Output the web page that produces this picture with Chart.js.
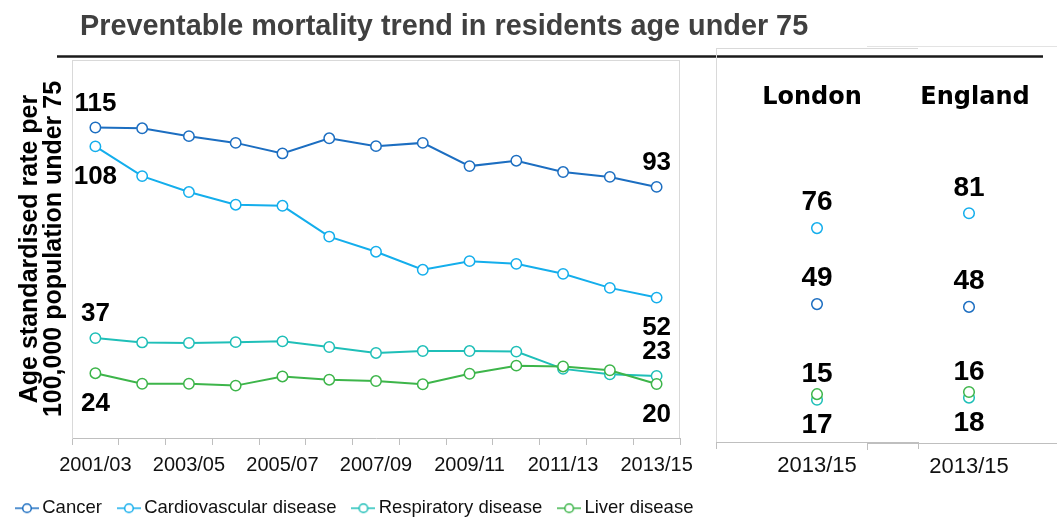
<!DOCTYPE html>
<html><head><meta charset="utf-8">
<script src="https://cdn.jsdelivr.net/npm/chart.js@4.4.0/dist/chart.umd.min.js"></script>
<style>
html,body{margin:0;padding:0;background:#fff;overflow:hidden}
#wrap{position:relative;width:1057px;height:517px;overflow:hidden;background:#fff}
canvas{position:absolute;top:0}
</style></head><body>
<div id="wrap">
<canvas id="main" width="1057" height="517" style="left:0;width:1057px;height:517px"></canvas>
<canvas id="london" width="230" height="517" style="left:700px;width:230px;height:517px"></canvas>
<canvas id="england" width="240" height="517" style="left:850px;width:240px;height:517px"></canvas>
</div>
<script>
// ---------- data ----------
const categories = ['2001/03','2002/04','2003/05','2004/06','2005/07','2006/08','2007/09','2008/10','2009/11','2010/12','2011/13','2012/14','2013/15'];
const tickLabels = ['2001/03','2003/05','2005/07','2007/09','2009/11','2011/13','2013/15'];
const seriesNames = ['Cancer','Cardiovascular disease','Respiratory disease','Liver disease'];
const cancer         = [115,114.7,111.8,109.3,105.4,111.0,108.1,109.3,100.7,102.7,98.5,96.7,93];
const cardiovascular = [108,97.0,91.1,86.4,86.0,74.6,69.0,62.3,65.5,64.5,60.8,55.6,52];
const respiratory    = [37,35.4,35.2,35.5,35.8,33.7,31.5,32.2,32.2,32.0,25.6,23.6,23];
const liver          = [24,20.1,20.1,19.4,22.8,21.6,21.1,19.9,23.8,26.8,26.5,25.1,20];
const compareCategory = ['2013/15'];
const compareNames = ['London','England'];
// order: Cancer, Cardiovascular, Respiratory, Liver
const londonValues  = [49,76,15,17];
const englandValues = [48,81,16,18];
const titleText = 'Preventable mortality trend in residents age under 75';
const yTitle = ['Age standardised rate per','100,000 population under 75'];

// ---------- styles ----------
Chart.defaults.font.family = "'Liberation Sans', Arial, sans-serif";
Chart.defaults.color = '#111';
const COLORS = ['#1C6EC1','#14AEEC','#1FBFB8','#3DB54A'];
const SIDES = ['above','below','above','below'];
const RIGHT_SIDES = ['above','above','above','below'];
const ORDERS = [4,3,2,1];

function markerImage(color){
  const c = document.createElement('canvas'); c.width = 24; c.height = 12;
  const g = c.getContext('2d');
  g.strokeStyle = color; g.lineWidth = 1.5;
  g.beginPath(); g.moveTo(0,6); g.lineTo(24,6); g.stroke();
  g.beginPath(); g.arc(12,6,4.3,0,Math.PI*2); g.fillStyle = '#fff'; g.fill(); g.stroke();
  return c;
}

const frame = {
  id:'frame',
  beforeDatasetsDraw(chart, args, o){
    const {left, top, right, bottom} = chart.chartArea;
    const ctx = chart.ctx; ctx.save();
    ctx.strokeStyle = o.color || '#D9D9D9'; ctx.lineWidth = 1;
    ctx.beginPath();
    if (o.top){ ctx.moveTo(left, Math.round(top)+0.5); ctx.lineTo(right, Math.round(top)+0.5); }
    if (o.right){ ctx.moveTo(Math.round(right)-0.5, top); ctx.lineTo(Math.round(right)-0.5, bottom); }
    if (o.left){ ctx.moveTo(Math.round(left)+0.5, top); ctx.lineTo(Math.round(left)+0.5, bottom); }
    ctx.stroke(); ctx.restore();
  }
};

const valueLabels = {
  id:'valueLabels',
  afterDatasetsDraw(chart, args, o){
    const ctx = chart.ctx; ctx.save();
    ctx.font = o.font; ctx.fillStyle = '#000';
    ctx.textAlign = 'center'; ctx.textBaseline = 'middle';
    chart.data.datasets.forEach((ds, di) => {
      const meta = chart.getDatasetMeta(di);
      const n = ds.data.length;
      const idx = o.ends ? [0, n-1] : ds.data.map((_, i) => i);
      idx.forEach(i => {
        const el = meta.data[i];
        const dy = ds.labelSide === 'below' ? o.below : -o.above;
        ctx.fillText(String(Math.round(ds.data[i])), el.x, el.y + dy);
      });
    });
    ctx.restore();
  }
};

const decor = {
  id:'decor',
  afterDraw(chart, args, o){
    const ctx = chart.ctx; ctx.save();
    if (o.title){
      ctx.font = "bold 28.8px 'Liberation Sans', Arial, sans-serif";
      ctx.fillStyle = '#404040'; ctx.textAlign = 'left'; ctx.textBaseline = 'alphabetic';
      ctx.fillText(o.title, 80, 35);
      ctx.strokeStyle = '#1a1a1a'; ctx.lineWidth = 2.5;
      ctx.beginPath(); ctx.moveTo(57, 56.5); ctx.lineTo(1043, 56.5); ctx.stroke();
    }
    if (o.heading){
      const xs = chart.scales.x;
      ctx.font = "bold 24px 'DejaVu Sans', Verdana, sans-serif";
      ctx.fillStyle = '#000'; ctx.textAlign = 'center'; ctx.textBaseline = 'middle';
      ctx.fillText(o.heading, xs.getPixelForValue(0) + o.dx, o.y);
    }
    ctx.restore();
  }
};

function lineDataset(i, data){
  return {
    label: seriesNames[i], data, borderColor: COLORS[i], backgroundColor: COLORS[i],
    borderWidth: 2, tension: 0, pointRadius: 5.2, pointBorderWidth: 1.5,
    pointBackgroundColor: '#fff', pointBorderColor: COLORS[i],
    labelSide: SIDES[i], order: ORDERS[i]
  };
}

const mainChart = new Chart(document.getElementById('main'), {
  type: 'line',
  data: { labels: categories, datasets: [
    lineDataset(0, cancer), lineDataset(1, cardiovascular),
    lineDataset(2, respiratory), lineDataset(3, liver)
  ]},
  options: {
    responsive: false, animation: false, events: [],
    layout: { padding: { left: 0, right: 0, top: 60, bottom: 0 } },
    scales: {
      x: {
        type: 'category', offset: true,
        grid: { offset: true, drawOnChartArea: false, drawTicks: true, tickLength: 7, color: '#BFBFBF' },
        border: { display: true, color: '#BFBFBF' },
        ticks: {
          autoSkip: false, maxRotation: 0, minRotation: 0, padding: 8, color: '#111', font: { size: 20 },
          callback(v){ const l = this.getLabelForValue(v); return tickLabels.includes(l) ? l : ''; }
        },
        afterFit(s){ s.height = 40; }
      },
      y: {
        min: 0, max: 140,
        grid: { display: false }, border: { display: true, color: '#D9D9D9' },
        ticks: { display: false },
        title: { display: true, text: yTitle, color: '#000',
                 font: { size: 25, weight: 'bold', lineHeight: 0.96 }, padding: { top: 18, bottom: 0 } },
        afterFit(s){ s.width = 72; }
      },
      y2: {
        type: 'linear', position: 'right', display: true,
        grid: { display: false }, border: { display: false }, ticks: { display: false },
        afterFit(s){ s.width = 1057 - 680; }
      }
    },
    plugins: {
      tooltip: { enabled: false },
      legend: {
        position: 'bottom', align: 'start',
        labels: {
          usePointStyle: true, pointStyleWidth: 12, padding: 21, color: '#111',
          font: { size: 18.5 },
          generateLabels(chart){
            return chart.data.datasets.map((ds, i) => ({
              text: ds.label, fillStyle: '#fff', strokeStyle: ds.borderColor, lineWidth: 0,
              pointStyle: markerImage(ds.borderColor), hidden: false, datasetIndex: i, fontColor: '#111'
            }));
          }
        }
      },
      frame: { top: true, right: true, color: '#D9D9D9' },
      valueLabels: { ends: true, font: "bold 26px 'Liberation Sans', Arial, sans-serif", above: 24, below: 30.5 },
      decor: { title: titleText }
    }
  },
  plugins: [frame, valueLabels, decor]
});
(function(){
  const lg = mainChart.legend; const orig = lg.fit.bind(lg);
  lg.fit = function(){ orig(); this.height = 39; };
  mainChart.update();
})();

function compareChart(id, values, name, pad, axisBottom, dx, frameOpts){
  return new Chart(document.getElementById(id), {
    type: 'line',
    data: { labels: compareCategory, datasets: values.map((v, i) => ({
      label: seriesNames[i], data: [v], showLine: false,
      borderColor: COLORS[i], backgroundColor: '#fff',
      pointRadius: 5.3, pointBorderWidth: 1.5, pointBackgroundColor: '#fff', pointBorderColor: COLORS[i],
      labelSide: RIGHT_SIDES[i], order: ORDERS[i]
    }))},
    options: {
      responsive: false, animation: false, events: [],
      layout: { padding: pad },
      scales: {
        x: {
          type: 'category', offset: true,
          grid: { offset: true, drawOnChartArea: false, drawTicks: true, tickLength: 7, color: '#BFBFBF' },
          border: { display: true, color: '#BFBFBF' },
          ticks: { padding: 4, color: '#111', font: { size: 22 }, maxRotation: 0 },
          afterFit(s){ s.height = 517 - axisBottom; }
        },
        y: { min: 0, max: 140, display: false }
      },
      plugins: {
        tooltip: { enabled: false }, legend: { display: false },
        frame: frameOpts,
        valueLabels: { ends: false, font: "bold 28px 'Liberation Sans', Arial, sans-serif", above: 25.5, below: 31.5 },
        decor: { heading: name, dx: dx, y: 98 }
      }
    },
    plugins: [frame, valueLabels, decor]
  });
}
compareChart('london', londonValues, compareNames[0], { left: 16, right: 12, top: 48, bottom: 0 }, 442, -5, { left: true, top: true, color: '#D9D9D9' });
compareChart('england', englandValues, compareNames[1], { left: 17, right: 19, top: 46, bottom: 0 }, 443, 6, { top: true, color: '#E3E3E3' });
</script>
</body></html>
